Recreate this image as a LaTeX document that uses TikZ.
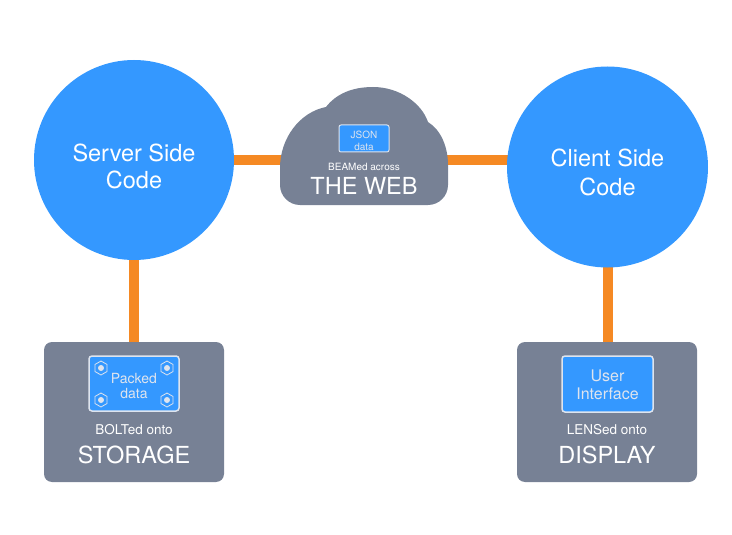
\documentclass[tikz,border=0pt]{standalone}
\usepackage{fontspec}
\setmainfont{TeX Gyre Heros}
\usetikzlibrary{backgrounds}
\definecolor{cblue}{RGB}{52,152,255}
\definecolor{cgray}{RGB}{119,129,149}
\definecolor{corange}{RGB}{245,137,35}
\definecolor{clight}{RGB}{222,228,238}
\tikzset{
  x=1pt, y=-1pt,
  circ/.style={circle, fill=cblue, draw=none, inner sep=0pt},
  panel/.style={rectangle, fill=cgray, draw=none, rounded corners=8pt, inner sep=0pt},
  inbox/.style={rectangle, fill=cblue, draw=clight, line width=1.5pt, rounded corners=3pt, inner sep=0pt},
  conn/.style={draw=corange, line width=10pt},
  big/.style={text=white, anchor=base, inner sep=0pt, font=\fontsize{23.5}{28}\selectfont},
  mid/.style={text=white, anchor=base, inner sep=0pt, font=\fontsize{13.5}{16}\selectfont},
  small/.style={text=white, anchor=base, inner sep=0pt, font=\fontsize{10}{12}\selectfont},
  intxt/.style={text=clight, anchor=base, inner sep=0pt},
  bolt/.style={draw=clight, line width=0.8pt},
}
\begin{document}
\begin{tikzpicture}
\useasboundingbox (0,0) rectangle (732,535);

% main nodes
\node[circ, minimum size=200pt] (server) at (134,160) {};
\node[circ, minimum size=201pt] (client) at (607.5,167) {};
\node[panel, minimum width=180pt, minimum height=140pt] (storage) at (134,412) {};
\node[panel, minimum width=180pt, minimum height=140pt] (display) at (607,412) {};
\coordinate (web) at (364,160);

% cloud
\fill[cgray] (300,205) .. controls (289,205) and (280,196) .. (280,185)
  -- (280,168)
  .. controls (280,138) and (300,112) .. (326,107)
  .. controls (336,94) and (352,87) .. (373,87)
  .. controls (400,87) and (422,104) .. (428,122)
  .. controls (441,130) and (448,147) .. (448,165)
  -- (448,185)
  .. controls (448,196) and (439,205) .. (428,205)
  -- cycle;

% connectors (behind)
\begin{pgfonlayer}{background}
  \draw[conn] (server.center) -- (web);
  \draw[conn] (web) -- (web -| client.center);
  \draw[conn] (server.center) -- (storage.center);
  \draw[conn] (client.center) -- (client.center |- storage.center);
\end{pgfonlayer}

% circle texts
\node[big] (s1) at (134,161) {Server Side};
\node[big] (s2) at (134,189) {Code};
\node[big] (c1) at (607.5,167) {Client Side};
\node[big] (c2) at (607.5,195) {Code};

% cloud contents
\node[inbox, line width=1pt, rounded corners=2pt, minimum width=50pt, minimum height=27pt] (json) at (364,138.5) {};
\node[intxt, font=\fontsize{10}{12}\selectfont] (j1) at (364,139) {JSON};
\node[intxt, font=\fontsize{10}{12}\selectfont] (j2) at (364,150) {data};
\node[small] (w1) at (364,170) {BEAMed across};
\node[big] (w2) at (364,194) {THE WEB};

% storage contents
\node[inbox, minimum width=90pt, minimum height=55pt] (packed) at (134,383.5) {};
\node[intxt, font=\fontsize{14}{16}\selectfont] (p1) at (134,383) {Packed};
\node[intxt, font=\fontsize{14}{16}\selectfont] (p2) at (134,398) {data};
\foreach \bx/\by in {101/368, 167/368, 101/400, 167/400}{
  \draw[bolt] (\bx,\by) +(90:7) -- +(150:7) -- +(210:7) -- +(270:7) -- +(330:7) -- +(30:7) -- cycle;
  \fill[clight] (\bx,\by) circle (3pt);
}
\node[mid] (b1) at (134,434) {BOLTed onto};
\node[big] (b2) at (134,463) {STORAGE};

% display contents
\node[inbox, minimum width=91pt, minimum height=56pt] (ui) at (607.5,384) {};
\node[intxt, font=\fontsize{16}{18}\selectfont] (u1) at (607.5,381) {User};
\node[intxt, font=\fontsize{16}{18}\selectfont] (u2) at (607.5,399) {Interface};
\node[mid] (l1) at (607,434) {LENSed onto};
\node[big] (l2) at (607,463) {DISPLAY};
\end{tikzpicture}
\end{document}
